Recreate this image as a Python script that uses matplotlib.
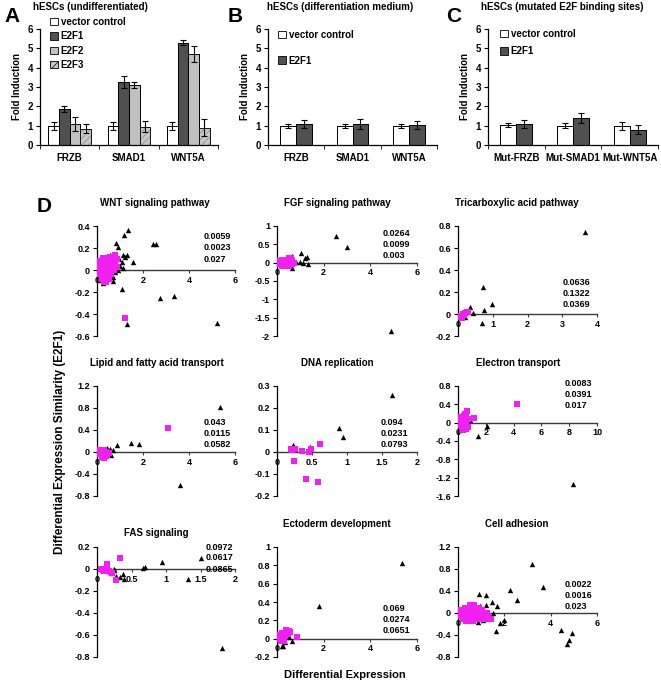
import numpy as np
import matplotlib
matplotlib.use("Agg")
import matplotlib.pyplot as plt
from matplotlib.patches import Patch
from matplotlib.ticker import FuncFormatter

plt.rcParams['font.family'] = ['Liberation Sans', 'DejaVu Sans']
plt.rcParams['font.weight'] = 'bold'

W, H = 661, 684

# ---- bar chart data (A, B, C) ----
genes = ['FRZB', 'SMAD1', 'WNT5A']
mut_genes = ['Mut-FRZB', 'Mut-SMAD1', 'Mut-WNT5A']

a_vc = [1.0, 1.0, 1.0]
a_vc_err = [0.2, 0.2, 0.2]
a_e2f1 = [1.85, 3.25, 5.3]
a_e2f1_err = [0.15, 0.3, 0.15]
a_e2f2 = [1.1, 3.12, 4.7]
a_e2f2_err = [0.35, 0.15, 0.4]
a_e2f3 = [0.85, 0.95, 0.9]
a_e2f3_err = [0.25, 0.3, 0.45]

b_vc = [1.0, 1.0, 1.0]
b_vc_err = [0.1, 0.1, 0.1]
b_e2f1 = [1.1, 1.1, 1.05]
b_e2f1_err = [0.2, 0.25, 0.2]

c_vc = [1.02, 1.0, 1.0]
c_vc_err = [0.1, 0.12, 0.2]
c_e2f1 = [1.1, 1.4, 0.8]
c_e2f1_err = [0.2, 0.25, 0.25]

# ---- scatter data (D): (differential expression, similarity) ----
wnt_tri = [(1.36, 0.36), (1.17, 0.32), (0.81, 0.25), (0.93, 0.21), (2.42, 0.235), (2.55, 0.235),
           (0.49, 0.13), (0.55, 0.14), (1.12, 0.135), (1.3, 0.14), (1.2, 0.12), (1.55, 0.07),
           (1.07, 0.07), (1.0, 0.035), (1.14, 0.02), (0.95, 0.1), (0.77, -0.02), (0.7, -0.06),
           (0.7, -0.1), (0.3, -0.1), (0.25, -0.12), (0.15, -0.09), (1.07, -0.17), (2.74, -0.25),
           (3.35, -0.24), (5.2, -0.48), (1.29, -0.49), (0.6, 0.02), (0.9, 0.0)]
wnt_pink = [(0.05, 0.0), (0.15, 0.0), (0.25, 0.0), (0.35, 0.0), (0.45, 0.0), (0.55, 0.0), (0.65, 0.0), (0.75, 0.0),
            (0.1, 0.04), (0.2, 0.04), (0.3, 0.04), (0.4, 0.04), (0.5, 0.04), (0.6, 0.04), (0.7, 0.04),
            (0.15, 0.08), (0.25, 0.08), (0.35, 0.08), (0.45, 0.08), (0.55, 0.08), (0.65, 0.08),
            (0.25, 0.11), (0.35, 0.11), (0.45, 0.11), (0.55, 0.12),
            (0.1, -0.04), (0.2, -0.04), (0.3, -0.04), (0.4, -0.04), (0.5, -0.04), (0.6, -0.04),
            (0.2, -0.08), (0.3, -0.08), (0.4, -0.08), (0.5, -0.08), (0.3, -0.11), (0.4, -0.11),
            (0.8, 0.14), (0.85, 0.1), (0.8, 0.05), (0.85, 0.03), (1.22, -0.44)]

fgf_tri = [(2.53, 0.73), (2.99, 0.42), (1.01, 0.26), (1.3, 0.15), (0.63, 0.17), (1.2, 0.12),
           (1.0, 0.03), (1.1, 0.0), (1.33, -0.05), (0.65, -0.15), (0.5, 0.05), (4.9, -1.86), (0.8, 0.02)]
fgf_pink = [(0.2, -0.08), (0.35, -0.08), (0.5, -0.08),
            (0.1, -0.04), (0.25, -0.04), (0.4, -0.04), (0.55, -0.04), (0.65, -0.04),
            (0.05, 0.0), (0.15, 0.0), (0.3, 0.0), (0.45, 0.0), (0.6, 0.0), (0.72, 0.0),
            (0.1, 0.04), (0.25, 0.04), (0.4, 0.04), (0.55, 0.04), (0.65, 0.04),
            (0.2, 0.08), (0.35, 0.08), (0.5, 0.08), (0.6, 0.08), (0.5, 0.12), (0.6, 0.12)]

tca_tri = [(3.65, 0.748), (0.73, 0.25), (0.97, 0.09), (0.75, 0.04), (0.35, 0.06), (0.43, 0.01),
           (0.68, -0.085), (0.2, -0.03)]
tca_pink = [(0.05, -0.03), (0.1, -0.02), (0.15, 0.0), (0.2, 0.01), (0.25, 0.02), (0.12, -0.04),
            (0.18, -0.01), (0.3, 0.02)]

lipid_tri = [(5.35, 0.82), (1.48, 0.16), (1.84, 0.14), (0.86, 0.13), (0.42, 0.07), (0.56, 0.06),
             (0.7, 0.03), (0.63, -0.05), (3.6, -0.6), (0.5, 0.0)]
lipid_pink = [(3.1, 0.43), (0.1, 0.0), (0.2, 0.02), (0.3, 0.03), (0.4, 0.0), (0.15, -0.04),
              (0.25, -0.06), (0.35, -0.04), (0.45, -0.05), (0.2, -0.09), (0.3, -0.11), (0.4, -0.08),
              (0.1, 0.04), (0.3, -0.01), (0.5, -0.02)]

dna_tri = [(1.65, 0.26), (0.88, 0.11), (0.94, 0.067), (0.23, 0.032), (0.47, 0.024)]
dna_pink = [(0.2, 0.012), (0.22, 0.01), (0.26, 0.012), (0.36, 0.005), (0.45, 0.0), (0.48, 0.012),
            (0.61, 0.036), (0.24, -0.04), (0.41, -0.124), (0.59, -0.135)]

elec_tri = [(0.86, 0.05), (2.1, -0.065), (1.45, -0.3), (8.28, -1.34), (0.6, 0.02)]
elec_pink = [(4.26, 0.4), (0.64, 0.245), (1.13, 0.1), (0.1, 0.0), (0.2, 0.05), (0.3, 0.1), (0.4, 0.15),
             (0.5, 0.18), (0.2, -0.05), (0.3, 0.0), (0.4, 0.05), (0.5, 0.1), (0.6, 0.12), (0.3, -0.1),
             (0.4, -0.05), (0.5, 0.0), (0.6, 0.05), (0.7, 0.08), (0.4, -0.12), (0.5, -0.08),
             (0.6, -0.03), (0.15, 0.08), (0.25, 0.12), (0.35, -0.15), (0.7, -0.1), (0.55, -0.14)]

fas_tri = [(0.94, 0.06), (1.51, 0.097), (0.69, 0.02), (0.67, 0.01), (1.32, -0.094), (0.37, -0.045),
           (0.34, -0.07), (0.24, -0.01), (0.24, 0.0), (0.39, -0.09), (1.81, -0.72), (0.2, -0.04),
           (0.28, -0.06)]
fas_pink = [(0.34, 0.103), (0.14, 0.05), (0.15, 0.03), (0.12, 0.0), (0.08, -0.01), (0.17, -0.02),
            (0.2, -0.03), (0.1, -0.02), (0.27, -0.1), (0.22, -0.04), (0.06, 0.0)]

ecto_tri = [(5.34, 0.83), (1.8, 0.36), (0.5, 0.02), (0.63, -0.03), (0.35, -0.04), (0.27, -0.08), (0.2, -0.08)]
ecto_pink = [(0.84, 0.015), (0.4, 0.095), (0.5, 0.08), (0.3, 0.06), (0.2, 0.03), (0.1, 0.0), (0.15, -0.03),
             (0.25, 0.0), (0.35, 0.03), (0.45, 0.05), (0.2, 0.06), (0.05, 0.02), (0.12, 0.04),
             (0.3, -0.02), (0.55, 0.07)]

cell_tri = [(3.18, 0.89), (3.68, 0.47), (2.24, 0.42), (2.53, 0.24), (0.92, 0.34), (1.2, 0.33),
            (1.48, 0.2), (1.2, 0.15), (1.68, 0.12), (0.95, 0.12), (1.14, 0.06), (1.5, 0.0),
            (0.95, -0.03), (1.06, -0.12), (2.0, -0.12), (1.8, -0.18), (1.63, -0.33), (4.43, -0.31),
            (4.92, -0.36), (4.79, -0.49), (4.71, -0.57), (0.85, -0.17)]
cell_pink = [(0.5, 0.15), (0.7, 0.15),
             (0.3, 0.1), (0.45, 0.1), (0.6, 0.1), (0.75, 0.1), (0.9, 0.1),
             (0.15, 0.05), (0.3, 0.05), (0.45, 0.05), (0.6, 0.05), (0.75, 0.05), (0.9, 0.05), (1.05, 0.05),
             (0.05, 0.0), (0.2, 0.0), (0.35, 0.0), (0.5, 0.0), (0.65, 0.0), (0.8, 0.0), (0.95, 0.0),
             (1.1, 0.0), (1.25, 0.0),
             (0.1, -0.05), (0.25, -0.05), (0.4, -0.05), (0.55, -0.05), (0.7, -0.05), (0.85, -0.05),
             (1.0, -0.05), (1.15, -0.05), (1.3, -0.05),
             (0.2, -0.1), (0.35, -0.1), (0.5, -0.1), (0.65, -0.1), (0.8, -0.1), (1.0, -0.1), (1.2, -0.1),
             (1.42, -0.1), (0.35, -0.14), (0.5, -0.14), (0.65, -0.14)]

titles = ['WNT signaling pathway', 'FGF signaling pathway', 'Tricarboxylic acid pathway',
          'Lipid and fatty acid transport', 'DNA replication', 'Electron transport',
          'FAS signaling', 'Ectoderm development', 'Cell adhesion']
pvalues = [['0.0059', '0.0023', '0.027'], ['0.0264', '0.0099', '0.003'], ['0.0636', '0.1322', '0.0369'],
           ['0.043', '0.0115', '0.0582'], ['0.094', '0.0231', '0.0793'], ['0.0083', '0.0391', '0.017'],
           ['0.0972', '0.0617', '0.0865'], ['0.069', '0.0274', '0.0651'], ['0.0022', '0.0016', '0.023']]
tri_sets = [wnt_tri, fgf_tri, tca_tri, lipid_tri, dna_tri, elec_tri, fas_tri, ecto_tri, cell_tri]
pink_sets = [wnt_pink, fgf_pink, tca_pink, lipid_pink, dna_pink, elec_pink, fas_pink, ecto_pink, cell_pink]
xticks = [[0, 2, 4, 6], [0, 2, 4, 6], [0, 1, 2, 3, 4],
          [0, 2, 4, 6], [0, 0.5, 1, 1.5, 2], [0, 2, 4, 6, 8, 10],
          [0, 0.5, 1, 1.5, 2], [0, 2, 4, 6], [0, 2, 4, 6]]
yticks = [[-0.6, -0.4, -0.2, 0, 0.2, 0.4], [-2, -1.5, -1, -0.5, 0, 0.5, 1], [-0.2, 0, 0.2, 0.4, 0.6, 0.8],
          [-0.8, -0.4, 0, 0.4, 0.8, 1.2], [-0.2, -0.1, 0, 0.1, 0.2, 0.3], [-1.6, -1.2, -0.8, -0.4, 0, 0.4, 0.8],
          [-0.8, -0.6, -0.4, -0.2, 0, 0.2], [-0.2, 0, 0.2, 0.4, 0.6, 0.8, 1], [-0.8, -0.4, 0, 0.4, 0.8, 1.2]]

# ---- layout (pixels) ----
col_x = [(97, 235), (277, 417), (458, 597)]
row_y = [(226, 336), (386, 496), (547, 657)]
title_pos = [(155, 203), (337, 203), (517, 203), (157, 363), (337, 363), (518, 363),
             (156, 533), (337, 524), (517, 524)]
# axes-fraction position of first p-value line
pv_pos = [(0.77, 0.9), (0.757, 0.936), (0.755, 0.49), (0.77, 0.664), (0.743, 0.664), (0.765, 1.02),
          (0.79, 1.0), (0.757, 0.44), (0.77, 0.66)]

PINK = '#f21ef2'
fmt = FuncFormatter(lambda v, p: '{:g}'.format(round(v, 3)))


def box(x0, x1, y0, y1):
    return [x0 / W, 1 - y1 / H, (x1 - x0) / W, (y1 - y0) / H]


fig = plt.figure(figsize=(W / 100, H / 100), dpi=100)


def bar_panel(xr, cats, series, width, title, letter, tpos, lpos, lspace, ylab_x):
    ax = fig.add_axes(box(xr[0], xr[1], 29, 145))
    n = len(series)
    x = np.arange(len(cats))
    for i, (vals, errs, fc, hatch, ec, lab) in enumerate(series):
        off = (i - (n - 1) / 2) * width
        ax.bar(x + off, vals, width, color=fc, hatch=hatch, edgecolor=ec, linewidth=0.6, label=lab,
               yerr=errs, error_kw=dict(ecolor='black', elinewidth=0.8, capsize=2, capthick=0.8))
        ax.bar(x + off, vals, width, color='none', edgecolor='black', linewidth=0.6)
    ax.set_xlim(-0.5, len(cats) - 0.5)
    ax.set_ylim(0, 6)
    ax.set_yticks(range(7))
    ax.set_xticks(x)
    ax.set_xticklabels(cats, fontsize=7, fontweight='bold')
    ax.set_xticks(np.arange(-0.5, len(cats)), minor=True)
    ax.tick_params(axis='x', which='major', length=0, pad=6)
    ax.tick_params(axis='x', which='minor', length=3, direction='out')
    ax.tick_params(axis='y', labelsize=7, length=3, direction='out', pad=2)
    for s in ['top', 'right']:
        ax.spines[s].set_visible(False)
    for s in ['left', 'bottom']:
        ax.spines[s].set_linewidth(0.9)
    fig.text(tpos[0] / W, 1 - tpos[1] / H, title, ha='center', va='center', fontsize=7, fontweight='bold')
    fig.text(letter[1] / W, 1 - letter[2] / H, letter[0], ha='left', va='center', fontsize=15, fontweight='bold')
    fig.text(ylab_x / W, 1 - 87 / H, 'Fold Induction', rotation=90, ha='center', va='center',
             fontsize=7, fontweight='bold')
    handles = [Patch(facecolor=s[2], hatch=s[3], edgecolor='black', linewidth=0.6) for s in series]
    ax.legend(handles, [s[5] for s in series], loc='upper left', bbox_to_anchor=(lpos[0] / W, 1 - lpos[1] / H),
              bbox_transform=fig.transFigure, frameon=False, borderpad=0, borderaxespad=0,
              handlelength=0.8, handleheight=0.8, handletextpad=0.3, labelspacing=lspace,
              prop=dict(size=7, weight='bold'))
    return ax


plt.rcParams['hatch.linewidth'] = 0.5
bar_panel((40, 218), genes,
          [(a_vc, a_vc_err, 'white', None, 'black', 'vector control'),
           (a_e2f1, a_e2f1_err, '#505050', None, 'black', 'E2F1'),
           (a_e2f2, a_e2f2_err, '#c0c0c0', None, 'black', 'E2F2'),
           (a_e2f3, a_e2f3_err, '#c8c8c8', '/////', '#8a8a8a', 'E2F3')],
          0.18, 'hESCs (undifferentiated)', ('A', 4, 16), (90, 7), (50, 17), 0.45, 17)
bar_panel((268, 437), genes,
          [(b_vc, b_vc_err, 'white', None, 'black', 'vector control'),
           (b_e2f1, b_e2f1_err, '#505050', None, 'black', 'E2F1')],
          0.28, 'hESCs (differentiation medium)', ('B', 228, 16), (340, 7), (278, 30), 1.6, 245)
bar_panel((488, 658), mut_genes,
          [(c_vc, c_vc_err, 'white', None, 'black', 'vector control'),
           (c_e2f1, c_e2f1_err, '#505050', None, 'black', 'E2F1')],
          0.28, 'hESCs (mutated E2F binding sites)', ('C', 446, 16), (562, 7), (500, 29), 0.75, 465)

# ---- scatter panels (D) ----
for k in range(9):
    r, c = divmod(k, 3)
    ax = fig.add_axes(box(col_x[c][0], col_x[c][1], row_y[r][0], row_y[r][1]))
    tri = np.array(tri_sets[k])
    pink = np.array(pink_sets[k])
    ax.scatter(tri[:, 0], tri[:, 1], marker='^', s=15, color='black', linewidths=0, zorder=3)
    ax.scatter(pink[:, 0], pink[:, 1], marker='s', s=13, color=PINK, linewidths=0, zorder=4)
    ax.set_xlim(xticks[k][0], xticks[k][-1])
    ax.set_ylim(yticks[k][0], yticks[k][-1])
    ax.set_xticks(xticks[k])
    ax.set_yticks(yticks[k])
    ax.xaxis.set_major_formatter(fmt)
    ax.yaxis.set_major_formatter(fmt)
    ax.spines['bottom'].set_position(('data', 0))
    ax.spines['bottom'].set_color('#3a3a3a')
    ax.spines['bottom'].set_linewidth(1.0)
    ax.spines['left'].set_linewidth(0.9)
    ax.spines['top'].set_visible(False)
    ax.spines['right'].set_visible(False)
    ax.tick_params(axis='x', labelsize=6.5, length=2.5, direction='out', pad=1.5, color='#3a3a3a')
    ax.tick_params(axis='y', labelsize=6.5, length=3, direction='out', pad=2)
    for lab in ax.get_xticklabels() + ax.get_yticklabels():
        lab.set_fontweight('bold')
    tx, ty = title_pos[k]
    fig.text(tx / W, 1 - ty / H, titles[k], ha='center', va='center', fontsize=7, fontweight='bold')
    px, py = pv_pos[k]
    for j, v in enumerate(pvalues[k]):
        ax.text(px, py - 0.1 * j, v, transform=ax.transAxes, ha='left', va='center',
                fontsize=6.5, fontweight='bold')

fig.text(37 / W, 1 - 207 / H, 'D', ha='left', va='center', fontsize=15, fontweight='bold')
fig.text(60 / W, 1 - 442 / H, 'Differential Expression Similarity (E2F1)', rotation=90,
         ha='center', va='center', fontsize=8.5, fontweight='bold')
fig.text(345 / W, 1 - 675 / H, 'Differential Expression', ha='center', va='center',
         fontsize=8, fontweight='bold')

fig.savefig('out.png', dpi=100)
